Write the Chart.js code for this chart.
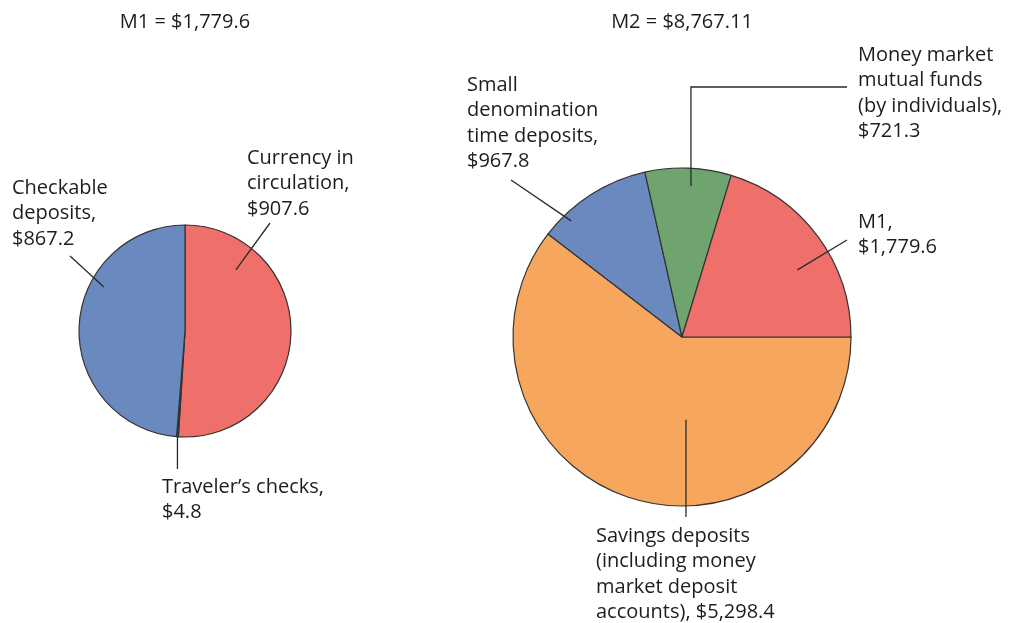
<!DOCTYPE html>
<html>
<head>
<meta charset="utf-8">
<script src="https://cdn.jsdelivr.net/npm/chart.js@4"></script>
<style>
  html, body { margin: 0; padding: 0; background: #fff; }
  .wrap { position: relative; width: 1027px; height: 623px; }
  #m1Chart { position: absolute; left: 0; top: 0; }
  #m2Chart { position: absolute; left: 400px; top: 0; }
</style>
</head>
<body>
<div class="wrap">
  <canvas id="m1Chart" width="400" height="623"></canvas>
  <canvas id="m2Chart" width="627" height="623"></canvas>
</div>
<script>
// Composantes de M1 (milliards de $), dans l'ordre horaire depuis midi
const m1Labels = ['Currency in circulation', 'Traveler’s checks', 'Checkable deposits'];
const m1Values = [907.6, 4.8, 867.2];
const m1Title  = 'M1 = $1,779.6';

// Composantes de M2, dans l'ordre horaire depuis 3 h
const m2Labels = ['Savings deposits', 'Small denomination time deposits', 'Money market mutual funds', 'M1'];
const m2Values = [5298.4, 967.8, 721.3, 1779.6];
const m2Title  = 'M2 = $8,767.11';

const m1Colors = ['#ef6f6b', '#333333', '#6a89bf'];
const m2Colors = ['#f7a65d', '#6a89bf', '#6fa46e', '#ef6f6b'];

const fmt = v => '$' + v.toLocaleString('en-US', { minimumFractionDigits: 1, maximumFractionDigits: 1 });

// Etiquettes avec traits de rappel, dessinées après les parts
const calloutPlugin = {
  id: 'callouts',
  afterDatasetsDraw(chart, args, opts) {
    const ctx    = chart.ctx;
    const arcs   = chart.getDatasetMeta(0).data;
    const values = chart.data.datasets[0].data;
    ctx.save();
    ctx.strokeStyle = '#2a2a2a';
    ctx.lineWidth   = 1.3;
    ctx.fillStyle   = '#1f1c1d';
    ctx.font        = '20px "Open Sans"';
    ctx.textBaseline = 'middle';
    ctx.textAlign    = 'left';
    opts.items.forEach(item => {
      const p  = arcs[item.index].getProps(['x', 'y', 'startAngle', 'endAngle', 'outerRadius'], true);
      const a  = p.startAngle + item.t * (p.endAngle - p.startAngle);
      const ax = p.x + item.r * p.outerRadius * Math.cos(a);
      const ay = p.y + item.r * p.outerRadius * Math.sin(a);
      ctx.beginPath();
      ctx.moveTo(ax, ay);
      item.path.forEach(pt => ctx.lineTo(pt.x ?? ax, pt.y ?? ay));
      ctx.stroke();
      item.lines.forEach((l, i) => {
        ctx.fillText(l.replace('{v}', fmt(values[item.index])), item.x, item.y + i * 25.5);
      });
    });
    // titre centré sur le camembert
    const c = arcs[0];
    ctx.textAlign = 'center';
    ctx.fillText(opts.title, c.x, opts.titleY);
    ctx.restore();
  }
};

function makePie(id, labels, values, colors, rotation, radius, padding, callouts) {
  return new Chart(document.getElementById(id), {
    type: 'pie',
    data: {
      labels,
      datasets: [{
        data: values,
        backgroundColor: colors,
        borderColor: '#333',
        borderWidth: 1.2
      }]
    },
    options: {
      responsive: false,
      animation: false,
      events: [],
      rotation,
      radius,
      layout: { padding },
      plugins: {
        legend:  { display: false },
        tooltip: { enabled: false },
        callouts
      }
    },
    plugins: [calloutPlugin]
  });
}

makePie('m1Chart', m1Labels, m1Values, m1Colors, 0, 106,
  { left: 65, right: 95, top: 211, bottom: 172 },
  {
    title: m1Title, titleY: 22,
    items: [
      { index: 0, t: 0.217, r: 0.75, path: [{ x: 270, y: 223 }], x: 247, y: 158, lines: ['Currency in', 'circulation,', '{v}'] },
      { index: 1, t: 0.5,   r: 1.0,  path: [{ y: 469 }],          x: 162, y: 487, lines: ['Traveler’s checks,', '{v}'] },
      { index: 2, t: 0.649, r: 0.87, path: [{ x: 70, y: 256 }],  x: 12,  y: 188, lines: ['Checkable', 'deposits,', '{v}'] }
    ]
  });

makePie('m2Chart', m2Labels, m2Values, m2Colors, 90, 169,
  { left: 102, right: 165, top: 157, bottom: 106 },
  {
    title: m2Title, titleY: 22,
    items: [
      { index: 0, t: 0.401, r: 0.49,  path: [{ y: 517 }],                     x: 196, y: 536, lines: ['Savings deposits', '(including money', 'market deposit', 'accounts), {v}'] },
      { index: 1, t: 0.22,  r: 0.95,  path: [{ x: 111, y: 180 }],             x: 67,  y: 85,  lines: ['Small', 'denomination', 'time deposits,', '{v}'] },
      { index: 2, t: 0.543, r: 0.895, path: [{ y: 87 }, { x: 447, y: 87 }],   x: 458, y: 55,  lines: ['Money market', 'mutual funds', '(by individuals),', '{v}'] },
      { index: 3, t: 0.587, r: 0.79,  path: [{ x: 447, y: 240 }],             x: 458, y: 222, lines: ['M1,', '{v}'] }
    ]
  });
</script>
</body>
</html>
